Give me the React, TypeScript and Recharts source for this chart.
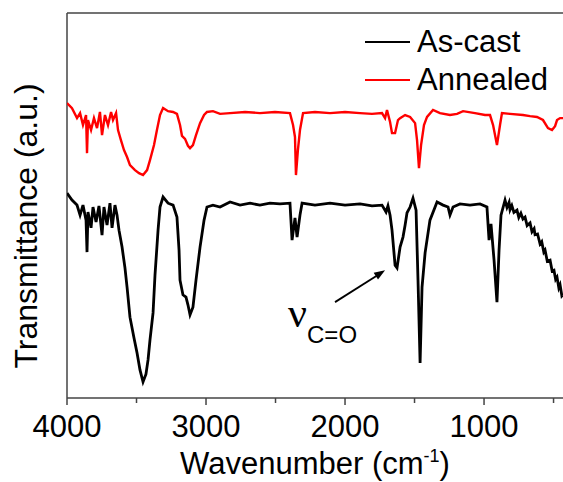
import React from "react";
import {
  LineChart,
  Line,
  XAxis,
  YAxis,
  Legend,
  ReferenceLine,
  ReferenceDot,
} from "recharts";

const FONT = "'Liberation Sans', Arial, sans-serif";

// wavenumber ticks (major get a label, minor don't)
const majorTicks = [4000, 3000, 2000, 1000];
const minorTicks = [3500, 2500, 1500, 500];
const legendOrder = ["As-cast", "Annealed"];

// As-cast spectrum
const asCastWavenumber = [
  4000, 3964, 3928, 3906, 3885, 3863, 3856, 3849, 3827, 3813, 3791, 3770, 3748, 3734, 3712, 3691,
  3676, 3655, 3640, 3626, 3604, 3583, 3568, 3547, 3518, 3496, 3475, 3453, 3432, 3417, 3403, 3381,
  3367, 3345, 3331, 3309, 3273, 3237, 3209, 3194, 3187, 3166, 3144, 3130, 3115, 3094, 3072, 3043,
  3014, 2993, 2950, 2899, 2827, 2755, 2683, 2612, 2540, 2468, 2396, 2381, 2360, 2345, 2324, 2309,
  2216, 2108, 2000, 1892, 1806, 1734, 1705, 1691, 1676, 1662, 1640, 1626, 1604, 1583, 1568, 1554,
  1532, 1511, 1489, 1475, 1460, 1446, 1424, 1389, 1338, 1295, 1259, 1245, 1223, 1173, 1101, 1029,
  979, 964, 950, 928, 907, 892, 878, 849, 835, 820, 813, 800, 785, 763, 750, 735, 720, 705, 690,
  669, 655, 640, 633, 615, 597, 585, 570, 561, 545, 525, 510, 497, 485, 475, 462, 453, 440, 432,
];
const asCastValue = [
  53.2, 51.4, 50.1, 47.5, 50.1, 46.2, 37.9, 48.3, 44.2, 49.6, 45.7, 49.9, 42.3, 49.6, 44.9, 50.6,
  44.2, 50.1, 47.5, 43.6, 39.2, 33.8, 28.8, 21.0, 15.6, 11.7, 7.3, 4.2, 6.2, 9.9, 15.1, 22.1,
  31.9, 43.6, 49.6, 52.2, 50.6, 50.1, 47.0, 38.4, 30.6, 26.8, 26.2, 24.2, 21.6, 23.6, 30.6, 39.2,
  46.2, 49.6, 50.1, 49.6, 50.9, 50.1, 50.6, 50.1, 50.6, 50.4, 50.6, 41.0, 46.8, 41.8, 47.5, 50.6,
  50.1, 50.6, 50.1, 50.4, 49.9, 50.1, 48.3, 49.9, 47.5, 43.6, 34.5, 33.8, 39.2, 41.8, 44.9, 48.1,
  49.6, 51.9, 48.8, 30.6, 9.1, 28.8, 37.7, 46.2, 50.9, 50.1, 49.6, 47.5, 49.6, 50.4, 50.1, 50.4,
  49.6, 41.0, 45.2, 35.8, 24.9, 38.4, 47.5, 51.4, 49.5, 50.8, 48.9, 50.0, 48.2, 48.8, 46.9, 48.0, 46.5, 47.0, 44.8,
  45.5, 43.2, 44.0, 42.4, 42.6, 40.0, 40.6, 37.9, 38.4, 35.5, 35.8, 33.0, 33.2, 30.8, 31.4, 28.6, 29.4, 26.5, 26.8,
];

// Annealed spectrum
const annealedWavenumber = [
  4000, 3964, 3928, 3906, 3885, 3863, 3856, 3849, 3827, 3806, 3784, 3763, 3748, 3727, 3705, 3683,
  3669, 3647, 3633, 3612, 3590, 3568, 3547, 3511, 3482, 3453, 3424, 3403, 3374, 3353, 3331, 3309,
  3273, 3237, 3209, 3187, 3173, 3151, 3130, 3115, 3094, 3072, 3043, 3014, 2993, 2950, 2899, 2827,
  2719, 2612, 2504, 2396, 2374, 2360, 2353, 2339, 2324, 2302, 2216, 2108, 2000, 1892, 1806, 1734,
  1712, 1698, 1676, 1662, 1640, 1619, 1604, 1568, 1532, 1496, 1482, 1468, 1453, 1432, 1410, 1367,
  1317, 1245, 1194, 1151, 1065, 993, 957, 935, 907, 885, 871, 813, 720, 669, 619, 576, 540, 511,
  489, 475, 453, 432,
];
const annealedValue = [
  76.6, 75.3, 72.7, 74.0, 70.9, 73.5, 63.6, 72.2, 69.6, 72.7, 70.1, 74.3, 68.3, 73.5, 70.9, 74.3,
  72.2, 74.0, 69.6, 67.0, 64.4, 62.6, 60.5, 59.2, 58.4, 57.9, 59.2, 61.8, 65.7, 69.6, 73.5, 75.3,
  74.5, 74.3, 73.8, 70.9, 68.1, 67.3, 65.5, 64.9, 65.7, 68.3, 71.4, 73.5, 74.3, 74.5, 73.8, 74.0,
  74.3, 74.0, 74.3, 74.0, 70.9, 67.8, 57.9, 64.4, 69.6, 74.0, 74.3, 74.0, 74.3, 74.0, 73.8, 74.0,
  72.7, 74.8, 71.7, 68.8, 68.8, 72.2, 72.7, 73.5, 73.0, 71.4, 67.0, 59.7, 65.7, 70.9, 73.0, 74.8,
  74.0, 73.5, 73.8, 74.5, 74.0, 73.5, 73.5, 70.9, 65.7, 70.9, 74.0, 73.8, 73.5, 73.2, 73.0, 72.2, 70.1, 69.6,
  70.6, 72.2, 72.7, 72.7,
];

const asCast = asCastWavenumber.map((w, i) => ({ w, v: asCastValue[i] }));
const annealed = annealedWavenumber.map((w, i) => ({ w, v: annealedValue[i] }));

const AxisTick = (props: any) => {
  const { x, y, payload } = props;
  const major = majorTicks.includes(payload.value);
  return (
    <g>
      <line x1={x} y1={y} x2={x} y2={y + (major ? 7 : 5)} stroke="#444" strokeWidth={1.5} />
      {major && (
        <text x={x} y={y + 39} textAnchor="middle" fontSize={31} fontFamily={FONT} fill="#000">
          {payload.value}
        </text>
      )}
    </g>
  );
};

const XTitle = (props: any) => {
  const { x, width } = props.viewBox;
  return (
    <text x={x + width / 2} y={474} textAnchor="middle" fontSize={31} fontFamily={FONT} fill="#000">
      <tspan>Wavenumber (cm</tspan>
      <tspan dy={-12} fontSize={18}>-1</tspan>
      <tspan dy={12}>)</tspan>
    </text>
  );
};

const YTitle = () => {
  const cx = 37;
  const cy = 226;
  return (
    <text
      x={cx}
      y={cy}
      transform={`rotate(-90, ${cx}, ${cy})`}
      textAnchor="middle"
      fontSize={32}
      fontFamily={FONT}
      fill="#000"
    >
      Transmittance (a.u.)
    </text>
  );
};

const renderLegend = (props: any) => {
  const items = [...props.payload].sort(
    (a: any, b: any) => legendOrder.indexOf(a.value) - legendOrder.indexOf(b.value)
  );
  return (
    <div style={{ fontFamily: FONT, fontSize: 31, lineHeight: "38px" }}>
      {items.map((p: any) => (
        <div key={p.value} style={{ display: "flex", alignItems: "center" }}>
          <span style={{ display: "inline-block", width: 45, height: 2, background: p.color, marginRight: 7 }} />
          <span style={{ color: "#000" }}>{p.value}</span>
        </div>
      ))}
    </div>
  );
};

const ArrowHead = (props: any) => {
  const { cx, cy } = props;
  return (
    <polygon
      points="0,0 -11,-4 -11,4"
      fill="#000"
      transform={`translate(${cx}, ${cy}) rotate(-33)`}
    />
  );
};

const NuLabel = (props: any) => {
  const { cx, cy } = props;
  return (
    <text x={cx} y={cy} fill="#000">
      <tspan fontFamily="'Liberation Serif', serif" fontSize={42}>ν</tspan>
      <tspan fontFamily={FONT} fontSize={24} dy={16}>C=O</tspan>
    </text>
  );
};

export default function App() {
  return (
    <div
      style={{
        position: "absolute",
        left: 0,
        top: 0,
        width: 563,
        height: 482,
        overflow: "hidden",
        background: "#fff",
      }}
    >
      <LineChart width={563} height={482} margin={{ top: 13, right: 0, bottom: 0, left: 66 }}>
        <XAxis
          dataKey="w"
          type="number"
          domain={[432, 4000]}
          reversed
          allowDataOverflow
          ticks={[...majorTicks, ...minorTicks]}
          interval={0}
          tickSize={0}
          tickMargin={0}
          tickLine={false}
          tick={<AxisTick />}
          height={84}
          axisLine={{ stroke: "#444", strokeWidth: 1.5 }}
          label={{ content: <XTitle /> }}
        />
        <YAxis
          type="number"
          domain={[0, 100]}
          width={1}
          tick={false}
          tickLine={false}
          axisLine={false}
          label={{ content: <YTitle /> }}
        />
        <ReferenceLine x={4000} stroke="#444" strokeWidth={1.5} />
        <ReferenceLine y={100} stroke="#444" strokeWidth={1.5} />
        <Legend
          layout="horizontal"
          verticalAlign="middle"
          align="center"
          wrapperStyle={{ top: 23, left: 365, width: "auto", height: "auto" }}
          content={renderLegend}
        />
        <Line
          data={asCast}
          dataKey="v"
          name="As-cast"
          stroke="#000"
          strokeWidth={2.8}
          dot={false}
          type="linear"
          isAnimationActive={false}
        />
        <Line
          data={annealed}
          dataKey="v"
          name="Annealed"
          stroke="#ff0000"
          strokeWidth={2.4}
          dot={false}
          type="linear"
          isAnimationActive={false}
        />
        <ReferenceLine
          segment={[
            { x: 2072, y: 24.9 },
            { x: 1735, y: 32.6 },
          ]}
          stroke="#000"
          strokeWidth={1.8}
        />
        <ReferenceDot x={1712} y={33.2} r={0} shape={<ArrowHead />} />
        <ReferenceDot x={2410} y={18.4} r={0} shape={<NuLabel />} />
      </LineChart>
    </div>
  );
}
